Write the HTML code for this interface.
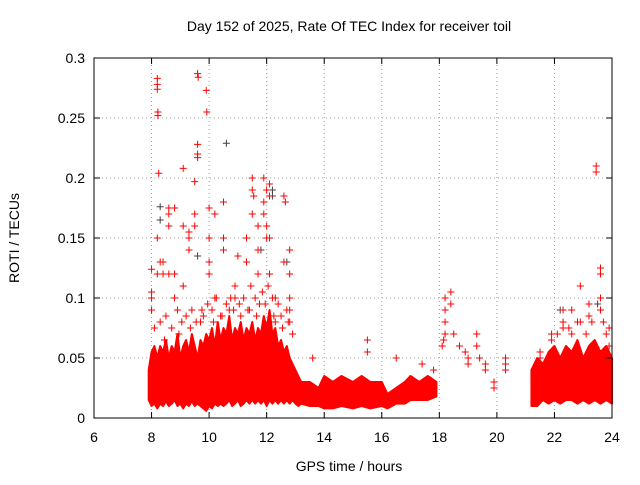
<!DOCTYPE html>
<html><head><meta charset="utf-8"><style>
body{margin:0;background:#fff;font-family:"Liberation Sans",sans-serif}
svg text{font-family:"Liberation Sans",sans-serif;font-size:14px;fill:#000}
</style></head><body>
<svg id="c" width="640" height="480">
<text x="349" y="31" text-anchor="middle">Day 152 of 2025, Rate Of TEC Index for receiver toil</text>
<text x="349" y="471" text-anchor="middle">GPS time / hours</text>
<text transform="translate(19,238) rotate(-90)" text-anchor="middle">ROTI / TECUs</text>
<g id="grid"></g><g id="marks"></g><g id="axes"></g>
</svg>
<script>
const xTicks=[6,8,10,12,14,16,18,20,22,24];
const yTicks=[0,0.05,0.1,0.15,0.2,0.25,0.3];
const yTickLabels=["0","0.05","0.1","0.15","0.2","0.25","0.3"];
// dense cloud envelopes (hours, lower ROTI, upper ROTI)
const bandT1=[7.9,8.0,8.1,8.2,8.3,8.4,8.5,8.6,8.7,8.8,8.9,9.0,9.1,9.2,9.3,9.4,9.5,9.6,9.7,9.8,9.9,10.0,10.1,10.2,10.3,10.4,10.5,10.6,10.7,10.8,10.9,11.0,11.1,11.2,11.3,11.4,11.5,11.6,11.7,11.8,11.9,12.0,12.1,12.2,12.3,12.4,12.5,12.6,12.7,12.8,12.9,13.0,13.1,13.2,13.5,13.8,14,14.3,14.6,15,15.3,15.6,16,16.2,16.5,16.8,17,17.3,17.6,17.9];
const bandHi1=[0.04,0.055,0.06,0.05,0.06,0.055,0.065,0.05,0.06,0.055,0.07,0.05,0.06,0.065,0.055,0.07,0.06,0.05,0.065,0.06,0.07,0.065,0.075,0.06,0.08,0.065,0.075,0.07,0.085,0.065,0.075,0.07,0.08,0.065,0.075,0.07,0.08,0.065,0.075,0.07,0.085,0.075,0.09,0.07,0.075,0.06,0.065,0.055,0.06,0.05,0.045,0.04,0.035,0.03,0.03,0.025,0.035,0.03,0.035,0.03,0.035,0.03,0.03,0.02,0.025,0.03,0.035,0.03,0.035,0.03];
const bandLo1=[0.015,0.01,0.012,0.008,0.012,0.01,0.014,0.01,0.012,0.015,0.01,0.012,0.008,0.012,0.01,0.014,0.01,0.012,0.01,0.008,0.006,0.01,0.008,0.012,0.01,0.012,0.01,0.012,0.015,0.01,0.012,0.015,0.01,0.012,0.015,0.012,0.015,0.012,0.015,0.012,0.015,0.01,0.015,0.012,0.015,0.012,0.015,0.012,0.015,0.012,0.015,0.012,0.01,0.012,0.01,0.01,0.008,0.008,0.01,0.008,0.01,0.008,0.01,0.008,0.012,0.012,0.015,0.015,0.015,0.018];
const bandT2=[21.2,21.4,21.6,21.8,22.0,22.2,22.4,22.6,22.8,23.0,23.2,23.4,23.6,23.8,24.0];
const bandHi2=[0.04,0.05,0.045,0.055,0.06,0.05,0.06,0.055,0.065,0.05,0.06,0.065,0.055,0.06,0.05];
const bandLo2=[0.01,0.01,0.015,0.012,0.015,0.012,0.015,0.015,0.012,0.015,0.012,0.015,0.012,0.015,0.012];
// outlier points
const ptT=[8,8,8,8,8.2,8.2,8.2,8.22,8.22,8.25,8.2,8.2,8.3,8.4,8.4,8.6,8.6,8.6,8.6,8.8,8.8,8.8,9.1,9.1,9.1,9.3,9.3,9.3,9.5,9.5,9.5,9.6,9.62,9.6,9.6,9.6,9.75,9.9,9.92,10,10,10,10,10.2,10.2,10.5,10.5,10.5,10.9,10.9,11,11.3,11.3,11.5,11.5,11.55,11.5,11.7,11.7,11.7,11.9,11.9,11.9,12,12,12,12.1,12.1,12.1,12.1,12.3,12.3,12.6,12.65,12.6,12.8,12.8,12.8,12.8,12.8,13.6,15.5,15.5,16.5,17.4,17.8,18.2,18.2,18.2,18.2,18.15,18.4,18.4,18.7,19,19,19.3,19.3,19.6,19.6,19.9,19.9,20.3,20.3,21.5,21.5,21.9,21.9,22.3,22.3,22.3,22.6,22.6,22.9,22.9,23.2,23.2,23.45,23.45,23.6,23.6,23.6,23.6,23.9,23.9,
8.1,8.3,8.5,8.7,8.9,9.05,9.2,9.4,9.55,9.8,9.95,10.1,10.25,10.4,10.6,10.75,10.85,11.05,11.2,11.35,11.45,11.6,11.75,11.85,12.05,12.2,12.4,12.5,12.7,12.9,8.45,8.95,9.35,9.7,10.15,10.45,10.7,11.1,11.4,11.65,11.95,12.25,12.55,12.75,18.1,18.5,18.9,19.4,20.3,22.1,22.5,22.8,23.1,23.3,23.7,23.8];
const ptV=[0.1,0.105,0.124,0.09,0.283,0.278,0.274,0.255,0.252,0.204,0.15,0.12,0.13,0.13,0.12,0.175,0.17,0.16,0.12,0.175,0.12,0.1,0.208,0.16,0.11,0.155,0.15,0.14,0.197,0.17,0.16,0.287,0.284,0.228,0.22,0.217,0.09,0.273,0.255,0.175,0.15,0.13,0.12,0.17,0.1,0.18,0.15,0.14,0.11,0.1,0.135,0.15,0.13,0.2,0.19,0.185,0.17,0.16,0.14,0.12,0.2,0.18,0.17,0.19,0.16,0.15,0.195,0.185,0.15,0.12,0.1,0.08,0.185,0.18,0.13,0.14,0.12,0.1,0.09,0.08,0.05,0.065,0.055,0.05,0.045,0.04,0.1,0.09,0.08,0.07,0.065,0.105,0.095,0.06,0.05,0.045,0.07,0.06,0.045,0.04,0.03,0.025,0.05,0.04,0.055,0.05,0.07,0.065,0.09,0.08,0.075,0.09,0.07,0.11,0.08,0.095,0.085,0.21,0.205,0.125,0.12,0.1,0.09,0.075,0.06,
0.075,0.08,0.085,0.075,0.09,0.08,0.085,0.09,0.08,0.085,0.095,0.09,0.1,0.085,0.095,0.1,0.09,0.095,0.1,0.09,0.11,0.1,0.095,0.105,0.11,0.1,0.095,0.085,0.09,0.07,0.065,0.07,0.075,0.08,0.08,0.085,0.09,0.085,0.09,0.085,0.095,0.085,0.075,0.08,0.06,0.07,0.055,0.05,0.045,0.07,0.075,0.08,0.07,0.08,0.08,0.07];
const grayT=[8.3,8.3,10.6,12.2,12.2,11.8,12.7,9.6,22.2,23.5];
const grayV=[0.176,0.165,0.229,0.19,0.185,0.14,0.13,0.135,0.09,0.095];

const X0=94,X1=612,Y0=418,Y1=58;
const sx=t=>X0+(t-6)/18*(X1-X0);
const sy=v=>Y0-v/0.3*(Y0-Y1);
const NS="http://www.w3.org/2000/svg";
function mk(p,tag,a){const e=document.createElementNS(NS,tag);for(const k in a)e.setAttribute(k,a[k]);p.appendChild(e);return e;}
const grid=document.getElementById('grid'),marks=document.getElementById('marks'),axes=document.getElementById('axes');
xTicks.forEach(t=>{
  if(t>6&&t<24){const g=mk(grid,'line',{x1:sx(t),x2:sx(t),y1:Y0,y2:Y1,stroke:'#a0a0a0','stroke-dasharray':'1,3'});
  
  }
  const tx=mk(axes,'text',{x:sx(t),y:Y0+24,'text-anchor':'middle'});tx.textContent=t;
  
  
  mk(axes,'line',{x1:sx(t),x2:sx(t),y1:Y0,y2:Y0-6,stroke:'#000'});
  mk(axes,'line',{x1:sx(t),x2:sx(t),y1:Y1,y2:Y1+6,stroke:'#000'});
});
yTicks.forEach((v,i)=>{
  if(v>0&&v<0.3){const g=mk(grid,'line',{x1:X0,x2:X1,y1:sy(v),y2:sy(v),stroke:'#a0a0a0','stroke-dasharray':'1,3'});
  
  }
  const tx=mk(axes,'text',{x:X0-9,y:sy(v)+5,'text-anchor':'end'});tx.textContent=yTickLabels[i];
  
  
  mk(axes,'line',{x1:X0,x2:X0+6,y1:sy(v),y2:sy(v),stroke:'#000'});
  mk(axes,'line',{x1:X1,x2:X1-6,y1:sy(v),y2:sy(v),stroke:'#000'});
});
const fr=mk(axes,'rect',{x:X0,y:Y1,width:X1-X0,height:Y0-Y1,fill:'none',stroke:'#000'});


function band(T,L,H,name){
  let d='M'+T.map((t,i)=>sx(t)+','+sy(H[i])).join('L');
  for(let i=T.length-1;i>=0;i--)d+='L'+sx(T[i])+','+sy(L[i]);
  const p=mk(marks,'path',{d:d+'Z',fill:'#ff0000',stroke:'#ff0000','stroke-width':2,'stroke-linejoin':'round'});
  
  
}
band(bandT1,bandLo1,bandHi1,'dense-cloud-day');
band(bandT2,bandLo2,bandHi2,'dense-cloud-evening');
function plus(t,v,col,name){
  const x=sx(t),y=sy(v);
  const p=mk(marks,'path',{d:`M${x-3.5},${y}h7M${x},${y-3.5}v7`,stroke:col,'stroke-width':1});
  
  
}
grayT.forEach((t,i)=>plus(t,grayV[i],'#404040','gray-point'));
ptT.forEach((t,i)=>plus(t,ptV[i],'#ff0000','roti-point'));
</script>
</body></html>
